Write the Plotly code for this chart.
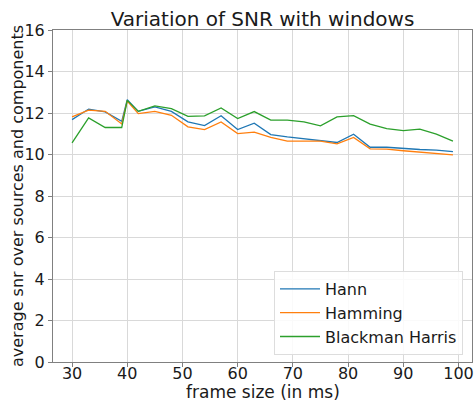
import plotly.graph_objects as go

frame_sizes = [30, 33, 36, 39, 40, 42, 45, 48, 51, 54, 57, 60, 63, 66, 69, 72, 75, 78, 81, 84, 87, 90, 93, 96, 99]
hann = [11.68, 12.19, 12.05, 11.60, 12.64, 12.08, 12.29, 12.08, 11.57, 11.39, 11.87, 11.20, 11.51,
        10.96, 10.85, 10.77, 10.69, 10.58, 10.98, 10.35, 10.35, 10.29, 10.24, 10.21, 10.14]
hamming = [11.81, 12.14, 12.08, 11.47, 12.58, 11.97, 12.08, 11.89, 11.33, 11.20, 11.57, 11.01, 11.08,
           10.82, 10.64, 10.64, 10.64, 10.51, 10.82, 10.27, 10.26, 10.18, 10.11, 10.02, 9.98]
blackman = [10.56, 11.76, 11.30, 11.30, 12.61, 12.08, 12.34, 12.21, 11.84, 11.86, 12.24, 11.73, 12.07,
            11.66, 11.66, 11.57, 11.38, 11.81, 11.87, 11.46, 11.25, 11.15, 11.22, 10.98, 10.64]

series = [("Hann", hann, "#1f77b4"), ("Hamming", hamming, "#ff7f0e"), ("Blackman Harris", blackman, "#2ca02c")]
x_ticks = [30, 40, 50, 60, 70, 80, 90, 100]
y_ticks = [0, 2, 4, 6, 8, 10, 12, 14, 16]

fig = go.Figure()
for name, vals, col in series:
    fig.add_trace(go.Scatter(x=frame_sizes, y=vals, mode="lines", name=name,
                             line=dict(color=col, width=1.3)))

font = "DejaVu Sans, sans-serif"
fig.update_layout(
    width=474, height=401,
    margin=dict(l=53, r=2, t=30, b=39, autoexpand=False),
    paper_bgcolor="white", plot_bgcolor="white",
    font=dict(family=font, size=16, color="#1a1a1a"),
    title=dict(text="Variation of SNR with windows", x=0.5, xref="paper", xanchor="center",
               y=1, yref="paper", yanchor="bottom", pad=dict(b=4),
               font=dict(size=20, family=font, color="#1a1a1a")),
    showlegend=True,
    legend=dict(x=1 - 9 / 419, y=7 / 332, xanchor="right", yanchor="bottom",
                bgcolor="rgba(255,255,255,0.85)", bordercolor="#dddddd", borderwidth=1,
                font=dict(size=16, family=font), itemwidth=40, tracegroupgap=0),
    annotations=[
        dict(text="frame size (in ms)", x=0.5, y=0, xref="paper", yref="paper",
             xanchor="center", yanchor="middle", yshift=-30, showarrow=False,
             font=dict(size=17, family=font, color="#1a1a1a")),
        dict(text="average snr over sources and components", x=0, y=0.5, xref="paper", yref="paper",
             xanchor="center", yanchor="middle", xshift=-36, textangle=-90, showarrow=False,
             font=dict(size=16, family=font, color="#1a1a1a")),
    ],
)
fig.update_xaxes(range=[26.55, 102.45], tickvals=x_ticks, showgrid=True, gridcolor="#d9d9d9",
                 gridwidth=1, showline=True, linecolor="#808080", linewidth=1, mirror=True,
                 ticks="outside", ticklen=4, tickcolor="#808080", zeroline=False, automargin=False,
                 ticklabelstandoff=-7, tickfont=dict(size=16))
fig.update_yaxes(range=[0, 16], tickvals=y_ticks, showgrid=True, gridcolor="#d9d9d9",
                 gridwidth=1, showline=True, linecolor="#808080", linewidth=1, mirror=True,
                 ticks="outside", ticklen=4, tickcolor="#808080", zeroline=False, automargin=False,
                 tickfont=dict(size=16))

fig.write_html("out.html")
